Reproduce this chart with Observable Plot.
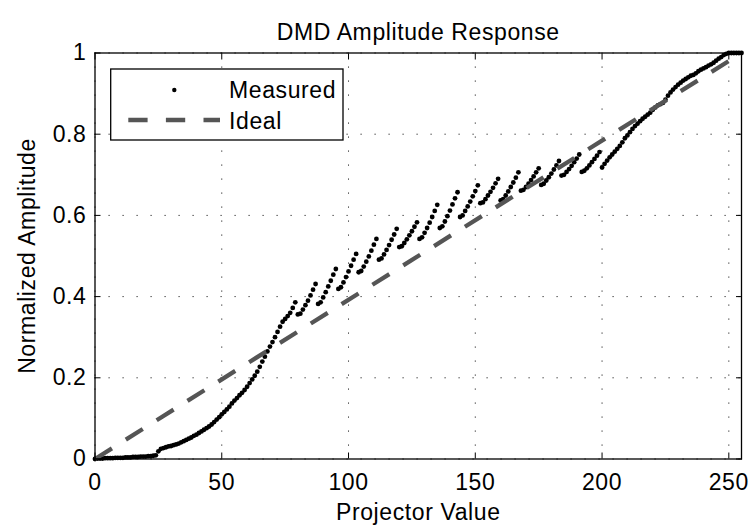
<!DOCTYPE html>
<html><head><meta charset="utf-8">
<script src="https://cdn.jsdelivr.net/npm/d3@7"></script>
<script src="https://cdn.jsdelivr.net/npm/@observablehq/plot@0.6"></script>
<style>
html,body{margin:0;padding:0;background:#fff;}
#chart{width:751px;height:527px;}
</style></head><body><div id="chart"></div>
<script>
// Measured normalized amplitude for projector values 0..255
const measuredAmplitude = [
  0.000, 0.001, 0.001, 0.001, 0.002, 0.002, 0.002, 0.002, 0.003, 0.003,
  0.003, 0.003, 0.004, 0.004, 0.004, 0.005, 0.005, 0.005, 0.006, 0.006,
  0.006, 0.007, 0.007, 0.008, 0.009, 0.019, 0.025, 0.027, 0.029, 0.031,
  0.032, 0.034, 0.036, 0.038, 0.041, 0.044, 0.047, 0.050, 0.053, 0.057,
  0.060, 0.064, 0.068, 0.072, 0.076, 0.080, 0.085, 0.091, 0.097, 0.103,
  0.110, 0.116, 0.122, 0.129, 0.137, 0.144, 0.150, 0.157, 0.163, 0.170,
  0.178, 0.187, 0.196, 0.205, 0.215, 0.227, 0.240, 0.252, 0.265, 0.277,
  0.288, 0.300, 0.313, 0.326, 0.338, 0.345, 0.352, 0.360, 0.372, 0.386,
  0.356, 0.358, 0.368, 0.379, 0.390, 0.403, 0.417, 0.431,
  0.382, 0.386, 0.398, 0.411, 0.425, 0.439, 0.454, 0.468,
  0.419, 0.423, 0.435, 0.448, 0.462, 0.476, 0.491, 0.505,
  0.460, 0.463, 0.474, 0.486, 0.499, 0.513, 0.528, 0.542,
  0.491, 0.494, 0.504, 0.515, 0.527, 0.540, 0.553, 0.567,
  0.522, 0.524, 0.532, 0.541, 0.551, 0.561, 0.572, 0.583,
  0.542, 0.546, 0.557, 0.569, 0.582, 0.596, 0.611, 0.626,
  0.569, 0.573, 0.585, 0.598, 0.612, 0.627, 0.642, 0.657,
  0.596, 0.600, 0.611, 0.622, 0.634, 0.647, 0.660, 0.674,
  0.630, 0.632, 0.640, 0.649, 0.658, 0.668, 0.679, 0.690,
  0.637, 0.640, 0.649, 0.659, 0.670, 0.681, 0.693, 0.706,
  0.661, 0.663, 0.670, 0.678, 0.687, 0.696, 0.706, 0.716,
  0.675, 0.678, 0.686, 0.694, 0.703, 0.713, 0.723, 0.734,
  0.698, 0.700, 0.707, 0.714, 0.722, 0.731, 0.740, 0.750,
  0.707, 0.710, 0.716, 0.723, 0.731, 0.739, 0.747, 0.756,
  0.718, 0.727, 0.735, 0.743, 0.750, 0.757, 0.764, 0.771, 0.780, 0.790,
  0.797, 0.805, 0.813, 0.820, 0.826, 0.832, 0.838, 0.843, 0.848, 0.853,
  0.860, 0.866, 0.871, 0.874, 0.877, 0.885, 0.895, 0.903, 0.910, 0.916,
  0.922, 0.927, 0.932, 0.936, 0.940, 0.944, 0.946, 0.950, 0.955, 0.959,
  0.962, 0.965, 0.969, 0.972, 0.976, 0.981, 0.986, 0.990, 0.995, 0.998,
  1.000, 1.000, 1.000, 1.000, 1.000, 1.000
];
const idealX = [0, 255];
const idealY = [0, 1];
const xTicks = [0, 50, 100, 150, 200, 250];
const xTickLabels = ["0", "50", "100", "150", "200", "250"];
const yTicks = [0, 0.2, 0.4, 0.6, 0.8, 1];
const yTickLabels = ["0", "0.2", "0.4", "0.6", "0.8", "1"];
const titleText = "DMD Amplitude Response";
const xLabel = "Projector Value";
const yLabel = "Normalized Amplitude";
const legendLabels = ["Measured", "Ideal"];

const measured = measuredAmplitude.map((y, i) => ({x: i, y}));
const ideal = idealX.map((x, i) => ({x, y: idealY[i]}));

const FONT = "'Liberation Sans', Arial, Helvetica, sans-serif";
const IDEAL_COLOR = "#555555";

const chart = Plot.plot({
  width: 751,
  height: 527,
  marginLeft: 94.5,
  marginRight: 10,
  marginTop: 52.5,
  marginBottom: 68.5,
  style: {fontFamily: FONT, fontSize: "23px", color: "#000", background: "#fff", overflow: "visible", letterSpacing: "0.6px"},
  x: {domain: [0, 255]},
  y: {domain: [0, 1]},
  marks: [
    Plot.gridX(xTicks, {stroke: "#000", strokeOpacity: 0.85, strokeWidth: 1, strokeDasharray: "1.2,12.8"}),
    Plot.gridY(yTicks, {stroke: "#000", strokeOpacity: 0.85, strokeWidth: 1, strokeDasharray: "1.2,12.8"}),
    Plot.dot(measured, {x: "x", y: "y", r: 2.4, fill: "#000", stroke: null}),
    Plot.line(ideal, {x: "x", y: "y", stroke: IDEAL_COLOR, strokeWidth: 4.3, strokeDasharray: "20,16.4", strokeLinecap: "butt"}),
    Plot.frame({stroke: "#000", strokeWidth: 1.3}),
    Plot.axisX(xTicks, {anchor: "bottom", tickSize: -6, tickPadding: 21, tickFormat: (d, i) => xTickLabels[i],
      label: xLabel, labelAnchor: "center", labelOffset: 61, labelArrow: "none"}),
    Plot.axisX(xTicks, {anchor: "top", tickSize: -6, tickFormat: () => "", label: null}),
    Plot.axisY(yTicks, {anchor: "left", tickSize: -6, tickPadding: 14.5, tickFormat: (d, i) => yTickLabels[i],
      label: yLabel, labelAnchor: "center", labelOffset: 76, labelArrow: "none"}),
    Plot.axisY(yTicks, {anchor: "right", tickSize: -6, tickFormat: () => "", label: null}),
    Plot.text([titleText], {frameAnchor: "top", dy: -13, lineAnchor: "bottom", text: d => d})
  ]
});

// Legend (inside the axes, upper left)
const svg = d3.select(chart);
const lg = svg.append("g").attr("font-family", FONT).attr("font-size", 23)
  .attr("letter-spacing", "0.6px").attr("text-anchor", "start");
lg.append("rect").attr("x", 110.7).attr("y", 69).attr("width", 232.3).attr("height", 71)
  .attr("fill", "#fff").attr("stroke", "#000").attr("stroke-width", 1.3);
lg.append("circle").attr("cx", 174.3).attr("cy", 90).attr("r", 2.2).attr("fill", "#000");
lg.append("line").attr("x1", 128.3).attr("x2", 220).attr("y1", 120).attr("y2", 120)
  .attr("stroke", IDEAL_COLOR).attr("stroke-width", 4.3).attr("stroke-dasharray", "19.3,18.3");
lg.append("text").attr("x", 229).attr("y", 97.7).attr("fill", "#000").attr("text-anchor", "start").text(legendLabels[0]);
lg.append("text").attr("x", 229).attr("y", 129.3).attr("fill", "#000").attr("text-anchor", "start").text(legendLabels[1]);

document.getElementById("chart").appendChild(chart);
</script>
</body></html>
